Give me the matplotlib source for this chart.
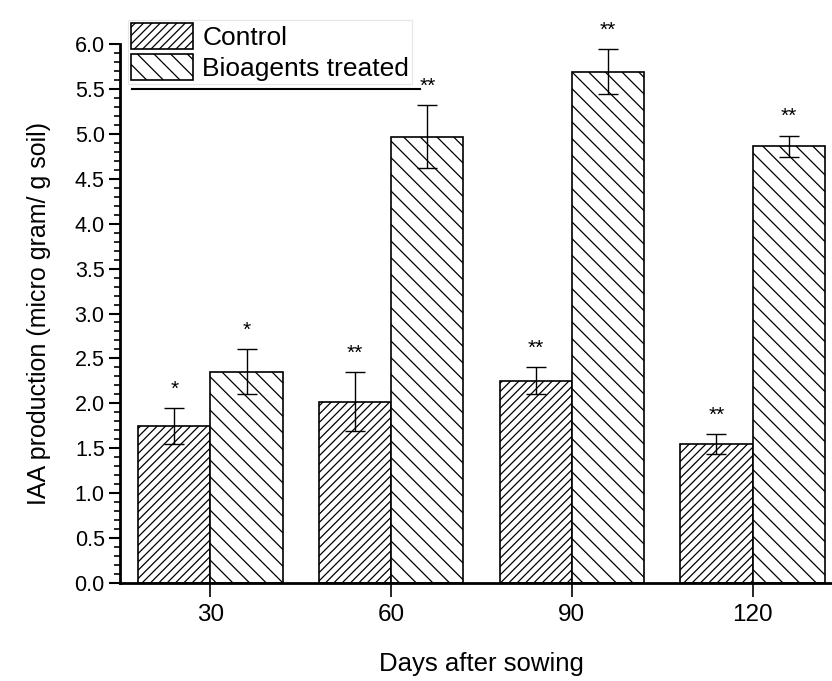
import matplotlib
matplotlib.use("Agg")
import matplotlib.pyplot as plt
import numpy as np
from matplotlib.lines import Line2D
from matplotlib.ticker import MultipleLocator, FormatStrFormatter

plt.rcParams['font.family'] = ['Liberation Sans', 'DejaVu Sans']
plt.rcParams['hatch.linewidth'] = 0.9

categories = ['30', '60', '90', '120']
control = [1.75, 2.02, 2.25, 1.55]
control_err = [0.20, 0.33, 0.15, 0.11]
treated = [2.35, 4.97, 5.69, 4.86]
treated_err = [0.25, 0.35, 0.25, 0.12]
control_sig = ['*', '**', '**', '**']
treated_sig = ['*', '**', '**', '**']

fig = plt.figure(figsize=(8.32, 6.81), dpi=100)
ax = fig.add_axes([120/832, 1-583/681, 723/832, (583-44)/681])

x = np.arange(len(categories))
w = 0.4
ax.bar(x - w/2, control, w, color='white', edgecolor='black', hatch='////',
       linewidth=1.2, label='Control', zorder=2)
ax.bar(x + w/2, treated, w, color='white', edgecolor='black', hatch='\\\\',
       linewidth=1.2, label='Bioagents treated', zorder=2)
ax.errorbar(x - w/2, control, yerr=control_err, fmt='none', ecolor='black',
            elinewidth=1, capsize=7, capthick=1, zorder=3)
ax.errorbar(x + w/2, treated, yerr=treated_err, fmt='none', ecolor='black',
            elinewidth=1, capsize=7, capthick=1, zorder=3)

for xi, v, e, s in zip(x - w/2, control, control_err, control_sig):
    ax.text(xi, v + e + 0.21, s, ha='center', va='center', fontsize=15, clip_on=False)
for xi, v, e, s in zip(x + w/2, treated, treated_err, treated_sig):
    ax.text(xi, v + e + 0.21, s, ha='center', va='center', fontsize=15, clip_on=False)

ax.set_xlim(-0.5, 3.5)
ax.set_ylim(0, 6.0)
ax.set_xticks(x)
ax.set_xticklabels(categories)
ax.yaxis.set_major_locator(MultipleLocator(0.5))
ax.yaxis.set_minor_locator(MultipleLocator(0.1))
ax.yaxis.set_major_formatter(FormatStrFormatter('%.1f'))
ax.tick_params(axis='y', which='major', direction='out', length=8, width=1.5,
               labelsize=15.5, pad=3)
ax.tick_params(axis='y', which='minor', direction='out', length=4, width=1.2)
ax.tick_params(axis='x', which='major', direction='out', length=10, width=1.2,
               labelsize=17.5, pad=5)
ax.spines['top'].set_visible(False)
ax.spines['right'].set_visible(False)
ax.spines['left'].set_linewidth(2)
ax.spines['bottom'].set_linewidth(2)

ax.set_ylabel('IAA production (micro gram/ g soil)', fontsize=18, labelpad=17)
ax.set_xlabel('Days after sowing', fontsize=18.5, labelpad=19)

leg = ax.legend(loc='upper left', bbox_to_anchor=(128/832, 1-20/681),
                bbox_transform=fig.transFigure, fontsize=19,
                handlelength=2.35, handleheight=1.15, handletextpad=0.35,
                labelspacing=0.15, borderpad=0.12, borderaxespad=0.0,
                frameon=True, fancybox=False, edgecolor='#e0e0e0')
leg.get_frame().set_linewidth(0.8)
fig.add_artist(Line2D([132/832, 420/832], [1-89/681, 1-89/681], color='black', lw=1.5))

fig.savefig('out.png', dpi=100, facecolor='white')
